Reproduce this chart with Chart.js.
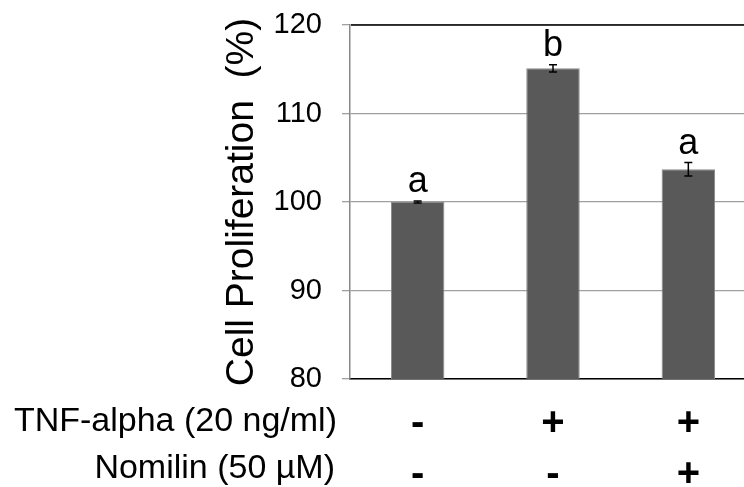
<!DOCTYPE html>
<html>
<head>
<meta charset="utf-8">
<script src="https://cdn.jsdelivr.net/npm/chart.js@4.4.1/dist/chart.umd.min.js"></script>
<style>
    html, body { margin: 0; padding: 0; background: #fff; overflow: hidden; }
    .wrap { width: 744px; height: 487px; overflow: hidden; }
</style>
</head>
<body>
<div class="wrap">
    <canvas id="prolifChart" width="756" height="487"></canvas>
</div>
<script>
// Data chart proliferasi sel
const groups = ['Control', 'TNF-alpha', 'TNF-alpha + Nomilin'];
const proliferation = [100, 115.1, 103.7];
const errors = [0.1, 0.4, 0.75];
const letters = ['a', 'b', 'a'];
const tnfRow = ['-', '+', '+'];
const nomilinRow = ['-', '-', '+'];
const rowLabels = ['TNF-alpha (20 ng/ml)', 'Nomilin (50 \u00b5M)'];
const yTicks = [80, 90, 100, 110, 120];

const FONT = '"Liberation Sans", Arial, sans-serif';

// Plugin: error bar, huruf signifikansi, dan baris +/- di bawah
const extrasPlugin = {
    id: 'extras',
    afterDatasetsDraw(chart) {
        const ctx = chart.ctx;
        const x = chart.scales.x;
        const y = chart.scales.y;
        const area = chart.chartArea;
        const meta = chart.getDatasetMeta(0);

        ctx.save();

        // garis atas hitam
        ctx.strokeStyle = '#000';
        ctx.lineWidth = 1.5;
        ctx.beginPath();
        ctx.moveTo(area.left + 1, y.getPixelForValue(yTicks[yTicks.length - 1]));
        ctx.lineTo(area.right, y.getPixelForValue(yTicks[yTicks.length - 1]));
        ctx.stroke();

        meta.data.forEach((bar, i) => {
            const top = y.getPixelForValue(proliferation[i] + errors[i]);
            const bottom = y.getPixelForValue(proliferation[i] - errors[i]);

            // error bar
            ctx.strokeStyle = '#000';
            ctx.lineWidth = 1.5;
            ctx.beginPath();
            ctx.moveTo(bar.x, top);
            ctx.lineTo(bar.x, bottom);
            ctx.moveTo(bar.x - 4, top);
            ctx.lineTo(bar.x + 4, top);
            ctx.moveTo(bar.x - 4, bottom);
            ctx.lineTo(bar.x + 4, bottom);
            ctx.stroke();

            // huruf a / b
            ctx.fillStyle = '#000';
            ctx.font = '36px ' + FONT;
            ctx.textAlign = 'center';
            ctx.textBaseline = 'alphabetic';
            ctx.fillText(letters[i], bar.x, top - 9);
        });

        // baris perlakuan
        ctx.fillStyle = '#000';
        ctx.textAlign = 'right';
        ctx.font = '34px ' + FONT;
        ctx.fillText(rowLabels[0], 337, 431);
        ctx.fillText(rowLabels[1], 335, 478);

        ctx.textAlign = 'center';
        ctx.font = 'bold 40px ' + FONT;
        groups.forEach((g, i) => {
            const cx = x.getPixelForValue(i);
            ctx.fillText(tnfRow[i], cx, 435);
            ctx.fillText(nomilinRow[i], cx, 486);
        });

        ctx.restore();
    }
};

document.addEventListener('DOMContentLoaded', function() {
    const prolifCtx = document.getElementById('prolifChart').getContext('2d');
    const prolifChart = new Chart(prolifCtx, {
        type: 'bar',
        data: {
            labels: groups,
            datasets: [{
                label: 'Cell Proliferation (%)',
                data: proliferation,
                backgroundColor: '#595959',
                borderColor: '#8a8a8a',
                borderWidth: 1,
                borderSkipped: 'start',
                barPercentage: 0.395,
                categoryPercentage: 1
            }]
        },
        options: {
            responsive: false,
            animation: false,
            events: [],
            layout: { padding: { left: 0, right: 0, top: 25, bottom: 0 } },
            plugins: {
                legend: { display: false },
                tooltip: { enabled: false }
            },
            scales: {
                x: {
                    grid: { display: false },
                    border: { display: true, color: '#000', width: 1.5 },
                    ticks: { display: false },
                    afterFit: function(scale) { scale.height = 108; }
                },
                y: {
                    min: yTicks[0],
                    max: yTicks[yTicks.length - 1],
                    afterBuildTicks: function(scale) {
                        scale.ticks = yTicks.map(v => ({ value: v }));
                    },
                    grid: { color: '#a0a0a0', lineWidth: 1.3, tickLength: 8 },
                    border: { display: true, color: '#888', width: 1.5 },
                    ticks: {
                        color: '#000',
                        padding: 20,
                        font: { family: FONT, size: 29, lineHeight: 0.3 }
                    },
                    title: {
                        display: true,
                        text: 'Cell Proliferation  (%)',
                        color: '#000',
                        font: { family: FONT, size: 39 },
                        padding: { top: 219, bottom: 0 }
                    },
                    afterFit: function(scale) { scale.width = 350; }
                }
            }
        },
        plugins: [extrasPlugin]
    });
});
</script>
</body>
</html>
